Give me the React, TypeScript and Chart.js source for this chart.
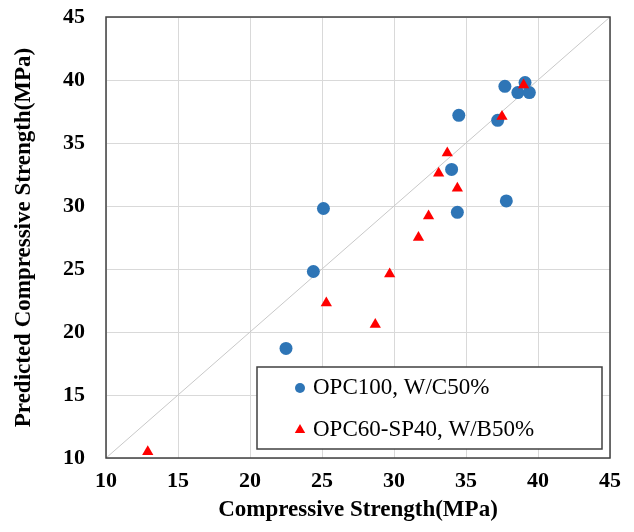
import React, { useEffect, useRef } from 'react';
import { Chart, registerables } from 'chart.js';

Chart.register(...registerables);

const seriesNames = ['OPC100, W/C50%', 'OPC60-SP40, W/B50%'];
const opcX = [22.5, 24.4, 25.1, 34.0, 34.4, 34.5, 37.2, 37.7, 38.6, 39.1, 39.4, 37.8];
const opcY = [18.7, 24.8, 29.8, 32.9, 29.5, 37.2, 36.8, 39.5, 39.0, 39.8, 39.0, 30.4];
const spX = [12.9, 25.3, 28.7, 29.7, 31.7, 32.4, 33.1, 33.7, 34.4, 37.5, 39.0];
const spY = [10.5, 22.3, 20.6, 24.6, 27.5, 29.2, 32.6, 34.2, 31.4, 37.1, 39.6];
const refLine = [10, 45];
const axisMin = 10;
const axisMax = 45;
const axisStep = 5;
const xTitle = 'Compressive Strength(MPa)';
const yTitle = 'Predicted Compressive Strength(MPa)';

const BLUE = '#2E75B6';
const RED = '#FF0000';
const FONT = "'Times New Roman', 'Liberation Serif', serif";

const boxLegend = {
  id: 'boxLegend',
  afterDraw(chart: any) {
    const { ctx, chartArea: a } = chart;
    ctx.save();
    // frame around plot
    ctx.strokeStyle = '#404040';
    ctx.lineWidth = 1.5;
    ctx.strokeRect(a.left, a.top, a.right - a.left, a.bottom - a.top);
    // legend box
    const bx = a.left + 151;
    const by = a.bottom - 91;
    const bw = a.right - 8 - bx;
    const bh = 82;
    ctx.fillStyle = '#ffffff';
    ctx.fillRect(bx, by, bw, bh);
    ctx.strokeStyle = '#404040';
    ctx.lineWidth = 1.5;
    ctx.strokeRect(bx, by, bw, bh);
    const mx = bx + 43;
    const y1 = by + 21;
    const y2 = by + 63;
    ctx.fillStyle = BLUE;
    ctx.beginPath();
    ctx.arc(mx, y1, 5, 0, Math.PI * 2);
    ctx.fill();
    ctx.fillStyle = RED;
    const r = 6;
    ctx.beginPath();
    ctx.moveTo(mx, y2 - r);
    ctx.lineTo(mx + r * 0.866, y2 + r * 0.5);
    ctx.lineTo(mx - r * 0.866, y2 + r * 0.5);
    ctx.closePath();
    ctx.fill();
    ctx.fillStyle = '#000';
    ctx.font = `23px ${FONT}`;
    ctx.textBaseline = 'middle';
    ctx.textAlign = 'left';
    ctx.fillText(seriesNames[0], bx + 56, y1);
    ctx.fillText(seriesNames[1], bx + 56, y2);
    ctx.restore();
  },
};

export default function App() {
  const ref = useRef<HTMLCanvasElement>(null);
  useEffect(() => {
    document.body.style.margin = '0';
    const chart = new Chart(ref.current as HTMLCanvasElement, {
      type: 'scatter',
      data: {
        datasets: [
          {
            label: seriesNames[1],
            data: spX.map((x, i) => ({ x, y: spY[i] })),
            pointStyle: 'triangle',
            pointRadius: 6.5,
            backgroundColor: RED,
            borderColor: RED,
            borderWidth: 0,
            order: 0,
          },
          {
            label: seriesNames[0],
            data: opcX.map((x, i) => ({ x, y: opcY[i] })),
            pointStyle: 'circle',
            pointRadius: 6.5,
            backgroundColor: BLUE,
            borderColor: BLUE,
            borderWidth: 0,
            order: 1,
          },
          {
            label: 'y=x',
            data: refLine.map((v) => ({ x: v, y: v })),
            showLine: true,
            pointRadius: 0,
            borderColor: '#c8c8c8',
            borderWidth: 1,
            order: 2,
          },
        ],
      },
      options: {
        animation: false,
        responsive: false,
        layout: { padding: { top: 17, right: 24, left: 0, bottom: 0 }, autoPadding: false },
        plugins: { legend: { display: false }, tooltip: { enabled: false } },
        scales: {
          x: {
            type: 'linear',
            min: axisMin,
            max: axisMax,
            ticks: {
              stepSize: axisStep,
              color: '#000',
              padding: 10,
              font: { family: FONT, size: 22, weight: 'bold' },
            },
            grid: { color: '#d9d9d9', lineWidth: 1, drawTicks: false },
            border: { display: false },
            title: {
              display: true,
              text: xTitle,
              color: '#000',
              font: { family: FONT, size: 23, weight: 'bold' },
              padding: { top: 0, bottom: 8 },
            },
            afterFit: (s: any) => {
              s.height = 74;
              s.paddingLeft = 0;
              s.paddingRight = 0;
            },
          },
          y: {
            type: 'linear',
            min: axisMin,
            max: axisMax,
            ticks: {
              stepSize: axisStep,
              color: '#000',
              padding: 21,
              font: { family: FONT, size: 22, weight: 'bold' },
            },
            grid: { color: '#d9d9d9', lineWidth: 1, drawTicks: false },
            border: { display: false },
            title: {
              display: true,
              text: yTitle,
              color: '#000',
              font: { family: FONT, size: 23, weight: 'bold' },
              padding: { top: 10, bottom: 0 },
            },
            afterFit: (s: any) => {
              s.width = 106;
              s.paddingTop = 0;
              s.paddingBottom = 0;
            },
          },
        },
      },
      plugins: [boxLegend],
    } as any);
    return () => chart.destroy();
  }, []);
  return (
    <div style={{ position: 'absolute', left: 0, top: 0, width: 634, height: 532 }}>
      <canvas ref={ref} width={634} height={532} />
    </div>
  );
}
